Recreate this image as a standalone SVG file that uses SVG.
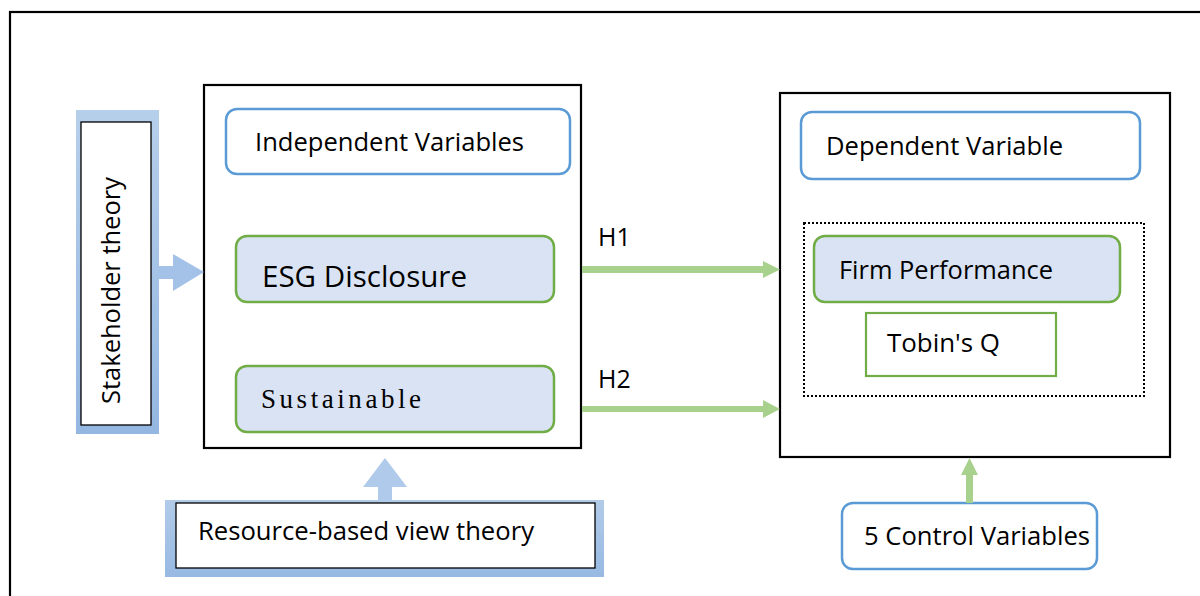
<svg xmlns="http://www.w3.org/2000/svg" width="1200" height="596" viewBox="0 0 1200 596">
  <defs>
    <linearGradient id="bandV" x1="0" y1="0" x2="0" y2="1">
      <stop offset="0" stop-color="#b6cfeb"/>
      <stop offset="1" stop-color="#94b7e1"/>
    </linearGradient>
    <linearGradient id="bandH" x1="0" y1="0" x2="0" y2="1">
      <stop offset="0" stop-color="#b2cbe9"/>
      <stop offset="1" stop-color="#97b9e2"/>
    </linearGradient>
    <style>
      .frame { fill: #ffffff; stroke: #000000; stroke-width: 2.2; }
      .blue { fill: #ffffff; stroke: #5b9bd5; stroke-width: 2.5; }
      .green { fill: #dae3f3; stroke: #70ad47; stroke-width: 2.5; }
      .greenplain { fill: #ffffff; stroke: #70ad47; stroke-width: 2.2; }
      .inner { fill: #ffffff; stroke: #000000; stroke-width: 1.3; }
      .dotted { fill: none; stroke: #000000; stroke-width: 2; stroke-dasharray: 2 2; }
      .t { font-family: "Open Sans", "Noto Sans", sans-serif; fill: #000000; }
      .mono { font-family: "Liberation Serif", "DejaVu Serif", serif; fill: #000000; }
      .garrow { fill: #a9d18e; }
    </style>
  </defs>

  <rect width="1200" height="596" fill="#ffffff"/>
  <rect id="outer-frame" class="frame" fill="none" x="10" y="12" width="1210" height="610"/>

  <g id="stakeholder-theory">
    <rect x="76" y="110" width="83" height="324" fill="url(#bandV)"/>
    <rect class="inner" x="81" y="122" width="70" height="303"/>
    <text class="t" font-size="25" transform="translate(120,404) rotate(-90)" textLength="227" lengthAdjust="spacingAndGlyphs">Stakeholder theory</text>
  </g>

  <g id="resource-based-view-theory">
    <rect x="165" y="500" width="439" height="77" fill="url(#bandH)"/>
    <rect class="inner" x="176" y="503" width="419" height="65"/>
    <text class="t" font-size="25" x="198" y="540" textLength="336" lengthAdjust="spacingAndGlyphs">Resource-based view theory</text>
  </g>

  <g id="independent-box">
    <rect class="frame" x="204" y="85" width="377" height="363"/>
  </g>
  <g id="independent-variables">
    <rect class="blue" x="226" y="109" width="344" height="65" rx="11"/>
    <text class="t" font-size="25" x="255" y="151" textLength="269" lengthAdjust="spacingAndGlyphs">Independent Variables</text>
  </g>
  <g id="esg-disclosure">
    <rect class="green" x="236" y="236" width="318" height="66" rx="11"/>
    <text class="t" font-size="29" x="262" y="287" textLength="205" lengthAdjust="spacingAndGlyphs">ESG Disclosure</text>
  </g>
  <g id="sustainable">
    <rect class="green" x="236" y="366" width="318" height="66" rx="11"/>
    <text class="mono" font-size="27" x="261" y="408" textLength="160" lengthAdjust="spacing">Sustainable</text>
  </g>

  <g id="dependent-box">
    <rect class="frame" x="780" y="93" width="390" height="364"/>
  </g>
  <g id="dependent-variable">
    <rect class="blue" x="801" y="112" width="339" height="67" rx="11"/>
    <text class="t" font-size="25" x="826" y="155" textLength="237" lengthAdjust="spacingAndGlyphs">Dependent Variable</text>
  </g>
  <g id="performance-group">
    <rect class="dotted" x="804" y="223" width="340" height="173"/>
  </g>
  <g id="firm-performance">
    <rect class="green" x="814" y="236" width="306" height="66" rx="11"/>
    <text class="t" font-size="25" x="839" y="279" textLength="214" lengthAdjust="spacingAndGlyphs">Firm Performance</text>
  </g>
  <g id="tobins-q">
    <rect class="greenplain" x="866" y="313" width="190" height="63"/>
    <text class="t" font-size="25" x="887" y="352" textLength="113" lengthAdjust="spacingAndGlyphs">Tobin's Q</text>
  </g>
  <g id="control-variables">
    <rect class="blue" x="842" y="503" width="255" height="66" rx="11"/>
    <text class="t" font-size="25" x="864" y="545" textLength="226" lengthAdjust="spacingAndGlyphs">5 Control Variables</text>
  </g>

  <g id="connectors">
    <!-- stakeholder -> independent -->
    <polygon fill="#a4c2e8" points="159,266 173,266 173,254 204,272 173,291 173,279 159,279"/>
    <!-- resource-based -> independent -->
    <polygon fill="#afcaea" points="378,500 378,487 363,487 385,458 407,487 392,487 392,500"/>
    <!-- H1 -->
    <polygon class="garrow" points="582,266 763,266 763,261 780,269.5 763,278 763,273 582,273"/>
    <text class="t" font-size="25" x="598" y="246">H1</text>
    <!-- H2 -->
    <polygon class="garrow" points="582,406 763,406 763,400 780,409 763,418 763,412 582,412"/>
    <text class="t" font-size="25" x="598" y="388">H2</text>
    <!-- control -> dependent -->
    <polygon class="garrow" points="966,503 966,475 961,475 969.5,458 978,475 973,475 973,503"/>
  </g>
</svg>
